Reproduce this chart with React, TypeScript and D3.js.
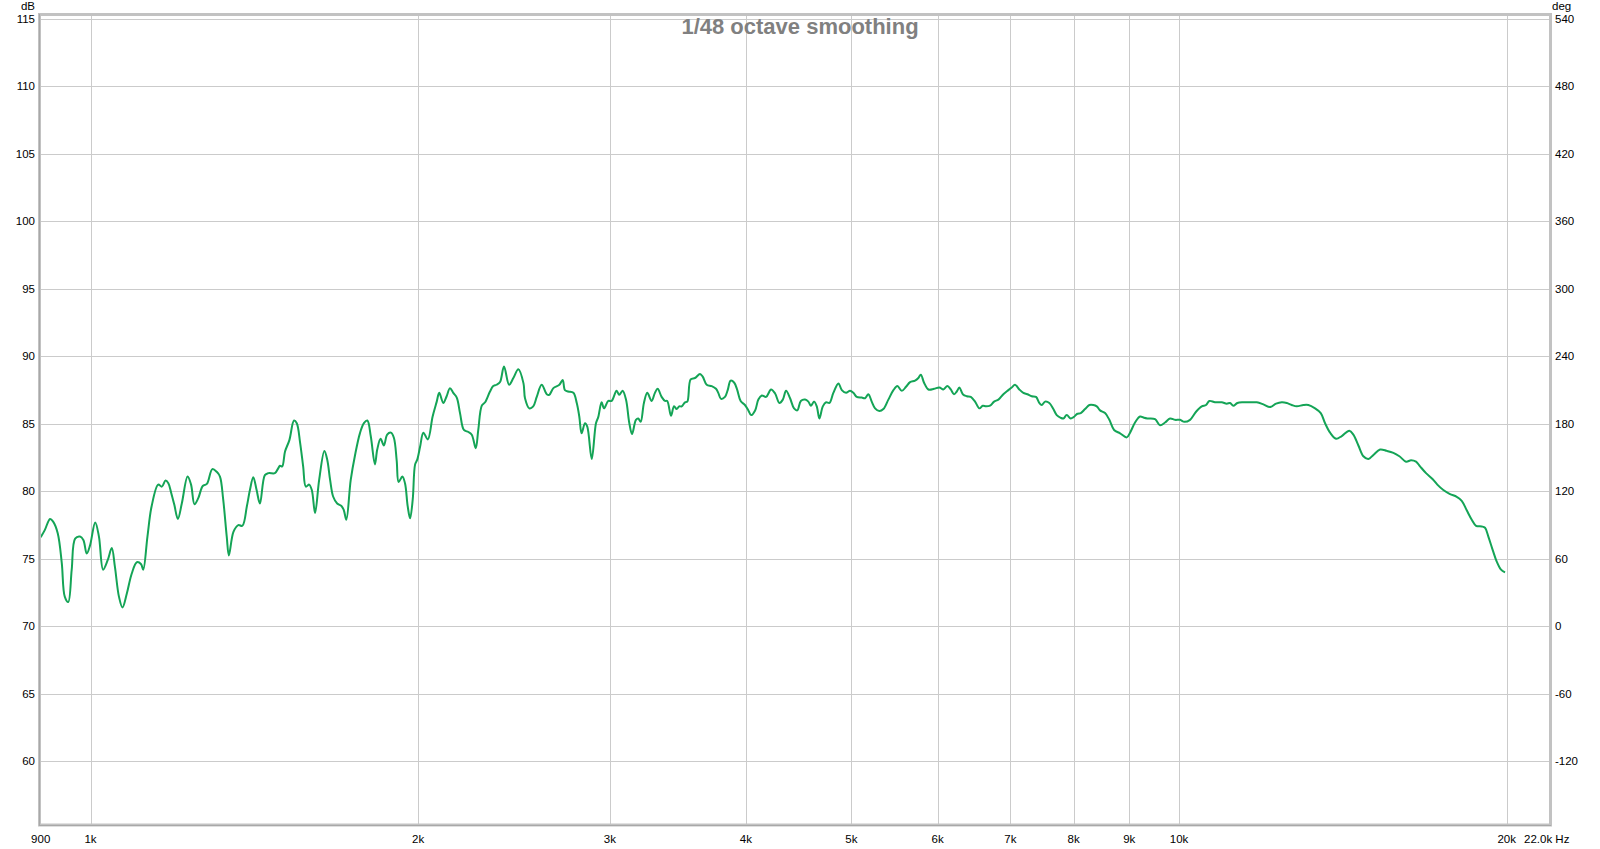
import React from "react";
import * as d3 from "d3";

// Frequency response (1/48 octave smoothing)
const freqHz = [
  900, 908, 918, 924, 933, 941, 947, 954, 961, 968, 978, 985, 992, 999, 1010, 1018, 1027, 1037, 1046, 1053,
  1062, 1070, 1080, 1091, 1103, 1113, 1118, 1128, 1138, 1154, 1163, 1172, 1179, 1186, 1194, 1203, 1213, 1228,
  1237, 1246, 1256, 1268, 1279, 1294, 1306, 1315, 1324, 1334, 1340, 1353, 1367, 1379, 1392, 1401, 1411, 1421,
  1431, 1446, 1457, 1477, 1486, 1493, 1500,
  1509, 1523, 1538, 1547, 1558, 1568, 1577, 1588, 1597, 1608, 1622, 1640, 1650, 1660, 1671, 1685, 1701, 1709,
  1718, 1734, 1750, 1768, 1783, 1796, 1809, 1825, 1834, 1847, 1860, 1873, 1888, 1900, 1911, 1919, 1934, 1945,
  1956, 1966, 1977, 1987, 1996, 2008, 2022, 2041, 2062, 2080, 2091, 2109, 2124, 2139, 2154, 2170, 2185, 2203,
  2224, 2240, 2259, 2271, 2288, 2304, 2328, 2344, 2361, 2378, 2398, 2424, 2446, 2472, 2499, 2507, 2530, 2551,
  2570, 2597, 2625, 2639, 2662, 2696, 2715, 2728, 2747, 2777, 2797, 2812, 2826, 2846, 2860, 2887, 2913, 2927,
  2948, 2963, 2990, 3011, 3043, 3060, 3082, 3104, 3126, 3144, 3170, 3186, 3202, 3224, 3247, 3277, 3300, 3319,
  3347, 3371, 3387, 3414, 3436, 3455, 3474, 3492, 3517, 3534, 3559, 3592, 3630, 3651, 3682, 3721, 3755, 3773,
  3795, 3827, 3849, 3873, 3903, 3928, 3956, 3992, 4021, 4044, 4079, 4107, 4137, 4175, 4219, 4255, 4294, 4325,
  4355, 4392, 4429, 4460, 4493, 4534, 4565, 4589, 4621, 4647, 4673, 4707, 4740, 4773, 4813, 4865, 4900, 4944,
  4986, 5021, 5057, 5111, 5147, 5183, 5220, 5257, 5305, 5350, 5407, 5465, 5511, 5563, 5613, 5661, 5721, 5761,
  5791, 5831, 5885, 5956, 6023, 6074, 6126, 6170, 6213, 6249, 6283, 6329, 6382, 6437, 6495, 6555, 6602, 6648,
  6705, 6762, 6824, 6896, 6969, 7019, 7068, 7133, 7194, 7255, 7323, 7389, 7441, 7479, 7532, 7600, 7665, 7720,
  7786, 7829, 7885, 7952, 8000, 8065, 8123, 8197, 8272, 8342, 8402, 8461, 8551, 8629, 8716, 8827, 8953, 9015,
  9111, 9208, 9286, 9351, 9505, 9606, 9708, 9811, 9916, 10021, 10113, 10235, 10366, 10492, 10588, 10662, 10791,
  10945, 11062, 11139, 11217, 11313, 11457, 11621, 11787, 11952, 12123, 12278, 12427, 12559, 12692, 12827,
  13008, 13146, 13334, 13495, 13619, 13764, 13939, 14109, 14337, 14459, 14613, 14768, 14925, 15084, 15299,
  15518, 15736, 15937, 16163, 16335, 16508, 16649, 16861, 17102, 17269, 17490, 17739, 17993, 18184, 18377,
  18573, 18742, 18970, 19103, 19237, 19416, 19581, 19760, 19928,
];

const levelDb = [
  76.6, 77.15, 77.96, 77.76, 76.9, 74.7, 72.2, 71.8, 74.2, 76.5, 76.65, 76.4, 75.4, 76.0, 77.7, 76.65, 74.2, 74.9, 75.8, 74.4,
  72.2, 71.4, 72.45, 73.9, 74.75, 74.6, 74.2, 76.65, 78.9, 80.5, 80.35, 80.8, 80.6, 79.9, 79.0, 77.96, 79.1, 81.1,
  80.5, 79.05, 79.5, 80.4, 80.55, 81.65, 81.45, 81.1, 79.4, 76.65, 75.25, 77.0, 77.5, 77.45, 78.9, 80.1, 81.05, 80.1,
  79.1, 81.2, 81.35, 81.35, 81.65, 81.9, 81.85,
  82.95, 83.8, 85.25, 85.05, 83.6, 81.85, 80.35, 80.5, 80.1, 78.4, 80.85, 83.0, 82.35, 80.85, 79.6, 79.1, 78.9, 78.6,
  77.9, 80.85, 82.7, 84.3, 85.05, 85.25, 84.1, 82.0, 83.1, 83.9, 83.4, 84.2, 84.35, 83.95, 82.3, 80.7, 81.1, 80.6,
  78.9, 78.0, 79.4, 82.0, 82.35, 83.3, 84.35, 83.85, 85.55, 86.65, 87.3, 86.55, 87.05, 87.65, 87.3, 86.95, 85.8, 84.55,
  84.4, 84.2, 83.2, 84.55, 86.35, 86.6, 87.4, 87.8, 87.9, 88.1, 89.25, 87.9, 88.4, 89.05, 88.0, 86.9, 86.15, 86.3,
  87.0, 87.9, 87.2, 87.15, 87.65, 87.9, 88.25, 87.5, 87.4, 87.3, 86.55, 85.55, 84.3, 85.05, 84.8, 82.4, 85.05, 85.5,
  86.6, 86.15, 86.7, 86.7, 87.45, 87.15, 87.45, 86.8, 85.05, 84.25, 85.3, 85.4, 85.15, 86.55, 87.3, 86.7, 87.3, 87.6,
  87.0, 86.7, 86.7, 85.6, 86.3, 86.1, 86.3, 86.3, 86.6, 86.65, 88.3, 88.4, 88.7, 88.5, 87.9, 87.8, 87.6, 87.3,
  86.85, 87.0, 87.5, 88.2, 88.05, 87.5, 86.7, 86.4, 86.0, 85.65, 86.0, 86.8, 87.1, 87.0, 87.55, 87.25, 86.55, 86.8,
  87.45, 86.9, 86.15, 86.0, 86.7, 86.8, 86.65, 86.35, 86.65, 86.3, 85.4, 86.3, 86.6, 86.55, 87.3, 88.0, 87.5, 87.3,
  87.45, 87.3, 87.0, 86.95, 86.9, 87.2, 86.65, 86.15, 85.95, 86.1, 86.8, 87.5, 87.8, 87.45, 87.75, 88.1, 88.2, 88.4,
  88.65, 88.05, 87.55, 87.6, 87.7, 87.55, 87.8, 87.55, 87.2, 87.4, 87.7, 87.2, 87.05, 87.0, 86.65, 86.15, 86.35, 86.3,
  86.35, 86.65, 86.8, 87.2, 87.5, 87.7, 87.9, 87.55, 87.3, 87.2, 87.05, 87.0, 86.55, 86.4, 86.65, 86.55, 86.1, 85.65,
  85.45, 85.4, 85.65, 85.4, 85.5, 85.75, 85.8, 86.1, 86.4, 86.4, 86.3, 86.0, 85.8, 85.3, 84.55, 84.3, 84.0, 84.35,
  85.1, 85.55, 85.45, 85.4, 85.35, 84.9, 85.1, 85.4, 85.3, 85.3, 85.15, 85.3, 85.9, 86.3, 86.4, 86.7, 86.6,
  86.6, 86.5, 86.55, 86.35, 86.55, 86.6, 86.6, 86.6, 86.45, 86.25, 86.5, 86.6, 86.55, 86.4, 86.3,
  86.4, 86.4, 86.15, 85.8, 85.05, 84.35, 83.9, 84.1, 84.5, 84.2, 83.4, 82.6, 82.4, 82.7, 83.1,
  83.0, 82.85, 82.6, 82.2, 82.3, 82.2, 81.85, 81.35, 80.9, 80.5, 80.1, 79.8, 79.6, 79.3, 78.6,
  77.9, 77.45, 77.4, 77.3, 76.65, 75.65, 74.8, 74.2, 74.0,
];

const dbTicks = [60, 65, 70, 75, 80, 85, 90, 95, 100, 105, 110, 115];
const degTickLabels = ["-120", "-60", "0", "60", "120", "180", "240", "300", "360", "420", "480", "540"];
const freqGridValues = [1000, 2000, 3000, 4000, 5000, 6000, 7000, 8000, 9000, 10000, 20000];
const freqTickValues = [900, 1000, 2000, 3000, 4000, 5000, 6000, 7000, 8000, 9000, 10000, 20000];
const freqTickLabels = ["900", "1k", "2k", "3k", "4k", "5k", "6k", "7k", "8k", "9k", "10k", "20k"];
const freqEndLabel = "22.0k Hz";
const title = "1/48 octave smoothing";

export default function App() {
  const W = 1600;
  const H = 849;
  const plotLeft = 41;
  const plotRight = 1550;
  const plotTop = 16;
  const plotBottom = 824;

  const x = d3.scaleLog().domain([900, 22000]).range([40.7, 1551.8]);
  const y = d3.scaleLinear().domain([60, 115]).range([761.3, 19]);

  const line = d3
    .line<number>()
    .x((_, i) => x(freqHz[i]))
    .y((_, i) => y(levelDb[i]))
    .curve(d3.curveCatmullRom.alpha(0.5));

  const pathD = line(levelDb) || "";
  const font = "'Liberation Sans', Arial, sans-serif";
  const fs = 11.5;

  return (
    <svg
      width={W}
      height={H}
      viewBox={`0 0 ${W} ${H}`}
      style={{ position: "absolute", left: 0, top: 0, background: "#fff" }}
    >
      <defs>
        <clipPath id="plotClip">
          <rect x={plotLeft} y={plotTop} width={plotRight - plotLeft} height={plotBottom - plotTop} />
        </clipPath>
      </defs>
      <rect x={0} y={0} width={W} height={H} fill="#fff" />

      {/* grid */}
      <g clipPath="url(#plotClip)">
        {dbTicks.map((v) => (
          <line
            key={"h" + v}
            x1={plotLeft}
            x2={plotRight}
            y1={Math.round(y(v)) + 0.5}
            y2={Math.round(y(v)) + 0.5}
            stroke="#cbcbcb"
            strokeWidth={1}
          />
        ))}
        {freqGridValues.map((f) => (
          <line
            key={"v" + f}
            x1={Math.round(x(f)) + 0.5}
            x2={Math.round(x(f)) + 0.5}
            y1={plotTop}
            y2={plotBottom}
            stroke="#cbcbcb"
            strokeWidth={1}
          />
        ))}
      </g>

      {/* title */}
      <text
        x={800}
        y={34}
        textAnchor="middle"
        fontFamily={font}
        fontWeight="bold"
        fontSize={22}
        fill="#808080"
      >
        {title}
      </text>

      {/* curve */}
      <g clipPath="url(#plotClip)">
        <path d={pathD} fill="none" stroke="#14a456" strokeWidth={2} strokeLinejoin="round" />
      </g>

      {/* frame */}
      <rect
        x={39.5}
        y={14.5}
        width={1511}
        height={810.5}
        fill="none"
        stroke="#c2c2c2"
        strokeWidth={3}
      />
      <line x1={39.5} x2={39.5} y1={14} y2={826} stroke="#a8a8a8" strokeWidth={1} />
      <line x1={39} x2={1551} y1={825.5} y2={825.5} stroke="#a8a8a8" strokeWidth={1} />

      {/* left axis */}
      <text x={35} y={10} textAnchor="end" fontFamily={font} fontSize={fs} fill="#000">
        dB
      </text>
      {dbTicks.map((v) => (
        <text
          key={"l" + v}
          x={35}
          y={y(v) + 4}
          textAnchor="end"
          fontFamily={font}
          fontSize={fs}
          fill="#000"
        >
          {v}
        </text>
      ))}

      {/* right axis */}
      <text x={1552} y={10} textAnchor="start" fontFamily={font} fontSize={fs} fill="#000">
        deg
      </text>
      {dbTicks.map((v, i) => (
        <text
          key={"r" + v}
          x={1555}
          y={y(v) + 4}
          textAnchor="start"
          fontFamily={font}
          fontSize={fs}
          fill="#000"
        >
          {degTickLabels[i]}
        </text>
      ))}

      {/* bottom axis */}
      {freqTickValues.map((f, i) => (
        <text
          key={"b" + f}
          x={x(f)}
          y={843}
          textAnchor="middle"
          fontFamily={font}
          fontSize={fs}
          fill="#000"
        >
          {freqTickLabels[i]}
        </text>
      ))}
      <text x={1524} y={843} textAnchor="start" fontFamily={font} fontSize={fs} fill="#000">
        {freqEndLabel}
      </text>
    </svg>
  );
}
